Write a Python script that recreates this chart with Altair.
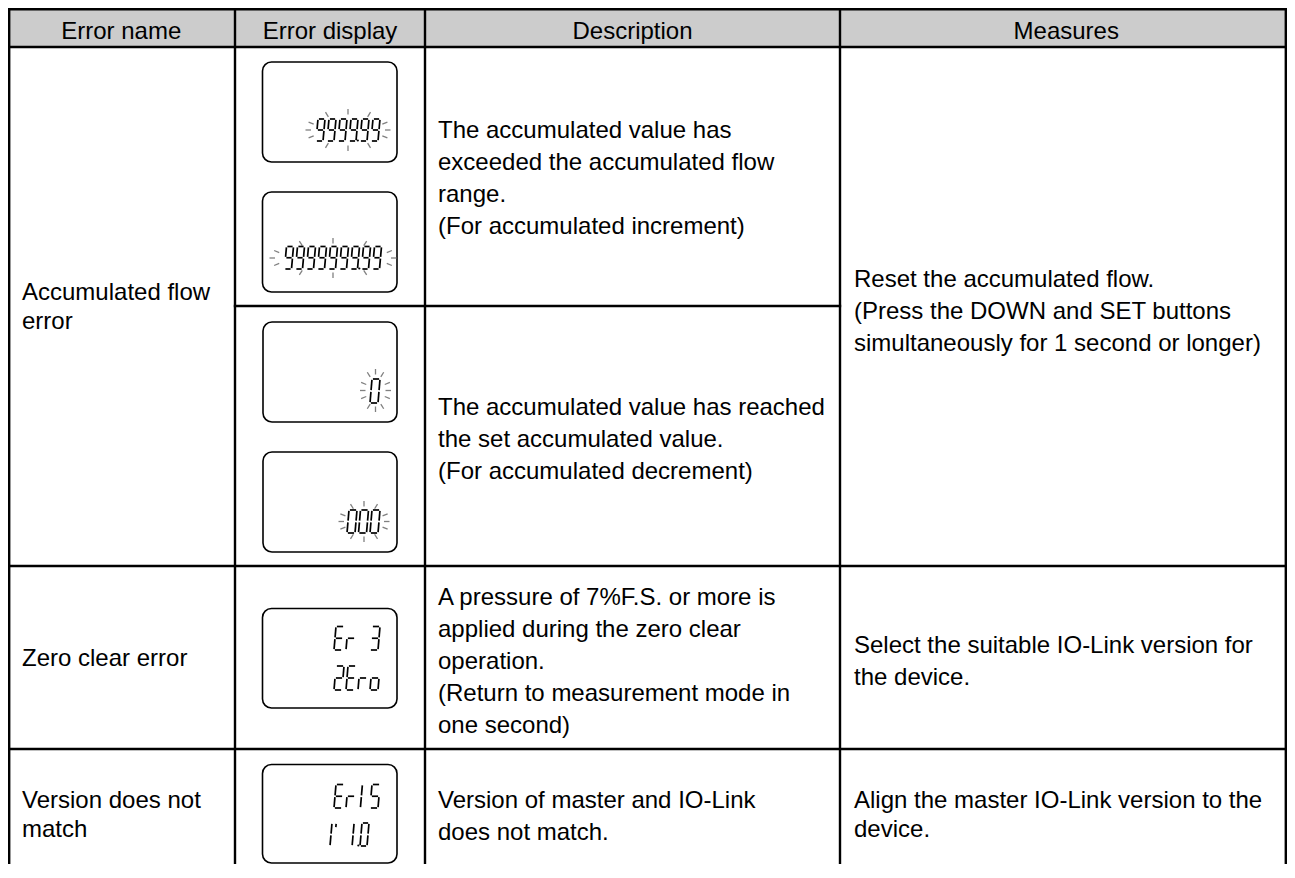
import math
import altair as alt
import pandas as pd

# ---------------- data (table content) ----------------
headers = ["Error name", "Error display", "Description", "Measures"]

error_names = [
    ["Accumulated flow", "error"],
    ["Zero clear error"],
    ["Version does not", "match"],
]

descriptions = [
    ["The accumulated value has", "exceeded the accumulated flow", "range.",
     "(For accumulated increment)"],
    ["The accumulated value has reached", "the set accumulated value.",
     "(For accumulated decrement)"],
    ["A pressure of 7%F.S. or more is", "applied during the zero clear",
     "operation.", "(Return to measurement mode in", "one second)"],
    ["Version of master and IO-Link", "does not match."],
]

measures = [
    ["Reset the accumulated flow.", "(Press the DOWN and SET buttons",
     "simultaneously for 1 second or longer)"],
    ["Select the suitable IO-Link version for", "the device."],
    ["Align the master IO-Link version to the", "device."],
]

display_texts = [["9999.99"], ["9999999.99"], ["0"], ["000"],
                 ["Er 3", "2Ero"], ["Er15", "V 1.0"]]
display_blinking = [True, True, True, True, False, False]

# ---------------- layout (reference pixel coordinates) ----------------
W, H = 1279, 856
X0, Y0 = 8.0, 8.0
BOTTOM = Y0 + H

col_centers_edges = [7.5, 235, 425, 840, 1292.5]
left_edge = max(7.5, X0 + 1.2)
right_edge = min(1292.5, X0 + W - 1.2)
col_edges = [left_edge, 235, 425, 840, right_edge]
top_y, head_y = max(7, Y0 + 1.2), 47
row_lines = [(566, col_edges[0], col_edges[-1]), (749, col_edges[0], col_edges[-1]),
             (306, col_edges[1], col_edges[3])]
header_baseline = 39

name_x, desc_x, meas_x = 22, 438, 854
name_first = [300, 666, 808]
name_step = 28.5
desc_first = [138, 415, 605, 808]
desc_step = 32
meas_first = [287, 653, 808]
meas_step = [32, 32, 28.5]

boxes = [(262.5, 62, 397, 162), (262.5, 192, 397, 292), (263, 322, 397, 422),
         (263, 452, 397, 552), (262.5, 608.5, 397, 708), (262.5, 764.5, 397, 863)]
# per display line: right edge, baseline, height, pitch, glyph width, slant
line_layout = [
    [(380, 141, 22, 11, 7, 2)],
    [(381.5, 269, 22.5, 11, 7, 2)],
    [(380, 403, 24, 11, 8, 2)],
    [(380, 533, 23, 11.5, 8, 2)],
    [(380, 650, 23.5, 12, 8, 2), (380, 690, 24, 12, 8, 2)],
    [(380, 808, 23.5, 12, 8, 2), (369, 846, 23, 10, 7, 2)],
]
ray_layout = [(348, 130, 37, 15.5), (333, 258, 58, 14.5), (375.5, 390.5, 10, 16),
              (364, 521.5, 20, 15), None, None]
ray_angles = [0, 22, -22, 180, 158, 202, 90, 58, 122, 270, 238, 302]
ray_len = 5.5

SEGS = {
    'a': ((0, 1), (1, 1)), 'b': ((1, 1), (1, 0.5)), 'c': ((1, 0.5), (1, 0)),
    'd': ((0, 0), (1, 0)), 'e': ((0, 0.5), (0, 0)), 'f': ((0, 1), (0, 0.5)),
    'g': ((0, 0.5), (1, 0.5)), 'i': ((0.3, 1), (0.3, 0.5)), 'j': ((0.3, 0.5), (0.3, 0)),
    't': ((0.6, 1), (0.6, 0.78)),
}
GLYPHS = {'0': 'abcdef', '1': 'ij', '2': 'abged', '3': 'abgcd', '5': 'afgcd',
          '9': 'abcdfg', 'E': 'afged', 'r': 'eg', 'o': 'cdeg', 'V': 'eft', ' ': ''}

# ---------------- build tables ----------------
grid = []
for cx in col_edges:
    grid.append(dict(x=cx, x2=cx, y=top_y, y2=BOTTOM))
for yy in (top_y, head_y):
    grid.append(dict(x=col_edges[0], x2=col_edges[-1], y=yy, y2=yy))
for yy, a, b in row_lines:
    grid.append(dict(x=a, x2=b, y=yy, y2=yy))
grid = pd.DataFrame(grid)

header_bg = pd.DataFrame([dict(x=col_edges[0], x2=col_edges[-1], y=top_y, y2=head_y)])

head_df = pd.DataFrame([dict(x=(col_centers_edges[i] + col_centers_edges[i + 1]) / 2,
                             y=header_baseline, label=h) for i, h in enumerate(headers)])

body = []
for r, lines in enumerate(error_names):
    for k, t in enumerate(lines):
        body.append(dict(x=name_x, y=name_first[r] + k * name_step, label=t))
for r, lines in enumerate(descriptions):
    for k, t in enumerate(lines):
        body.append(dict(x=desc_x, y=desc_first[r] + k * desc_step, label=t))
for r, lines in enumerate(measures):
    for k, t in enumerate(lines):
        body.append(dict(x=meas_x, y=meas_first[r] + k * meas_step[r], label=t))
body_df = pd.DataFrame(body)

box_df = pd.DataFrame([dict(x=a, y=b, x2=c, y2=d) for a, b, c, d in boxes])

segs, dots, rays = [], [], []
for di, lines in enumerate(display_texts):
    for li, text in enumerate(lines):
        right, base, gh, pitch, gw, sl = line_layout[di][li]
        chars = []
        for ch in text:
            if ch == '.' and chars:
                chars[-1][1] = True
            else:
                chars.append([ch, False])
        n = len(chars)
        last_left = right - gw - sl
        for i, (ch, dot) in enumerate(chars):
            left = last_left - (n - 1 - i) * pitch
            for s in GLYPHS[ch]:
                (u1, v1), (u2, v2) = SEGS[s]
                xa, ya = left + u1 * gw + v1 * sl, base - v1 * gh
                xb, yb = left + u2 * gw + v2 * sl, base - v2 * gh
                L = math.hypot(xb - xa, yb - ya)
                g = 0.9 if L > 4 else 0
                dx, dy = (xb - xa) / L * g, (yb - ya) / L * g
                segs.append(dict(x=xa + dx, y=ya + dy, x2=xb - dx, y2=yb - dy))
            if dot:
                dots.append(dict(x=left + gw + (pitch - gw) * 0.45, y=base - 0.5))
    if display_blinking[di] and ray_layout[di]:
        cx, cy, rx, ry = ray_layout[di]
        for a in ray_angles:
            t = math.radians(a)
            px, py = cx + rx * math.cos(t), cy - ry * math.sin(t)
            rays.append(dict(x=px, y=py, x2=px + ray_len * math.cos(t),
                             y2=py - ray_len * math.sin(t)))
seg_df, dot_df, ray_df = pd.DataFrame(segs), pd.DataFrame(dots), pd.DataFrame(rays)

# ---------------- chart ----------------
xs = alt.Scale(domain=[X0, X0 + W], range=[0, W], nice=False, zero=False)
ys = alt.Scale(domain=[Y0, Y0 + H], range=[0, H], nice=False, zero=False)


def enc2(ch):
    return ch.encode(x=alt.X('x:Q', scale=xs, axis=None), x2='x2:Q',
                     y=alt.Y('y:Q', scale=ys, axis=None), y2='y2:Q')


FONT = "Liberation Sans"

layers = [
    enc2(alt.Chart(header_bg).mark_rect(color='#cccccc')),
    enc2(alt.Chart(box_df).mark_rect(cornerRadius=9, fill='white', stroke='black',
                                     strokeWidth=1.6)),
    enc2(alt.Chart(ray_df).mark_rule(color='#808080', strokeWidth=1.3)),
    enc2(alt.Chart(seg_df).mark_rule(color='black', strokeWidth=1.7, strokeCap='butt')),
    alt.Chart(dot_df).mark_circle(color='black', size=5, opacity=1).encode(
        x=alt.X('x:Q', scale=xs, axis=None), y=alt.Y('y:Q', scale=ys, axis=None)),
    enc2(alt.Chart(grid).mark_rule(color='black', strokeWidth=2.4, strokeCap='square')),
    alt.Chart(head_df).mark_text(font=FONT, fontSize=24, align='center',
                                 baseline='alphabetic', color='black').encode(
        x=alt.X('x:Q', scale=xs, axis=None), y=alt.Y('y:Q', scale=ys, axis=None),
        text='label:N'),
    alt.Chart(body_df).mark_text(font=FONT, fontSize=24, align='left',
                                 baseline='alphabetic', color='black').encode(
        x=alt.X('x:Q', scale=xs, axis=None), y=alt.Y('y:Q', scale=ys, axis=None),
        text='label:N'),
]

chart = alt.layer(*layers).properties(
    width=W, height=H, padding=0,
    autosize=alt.AutoSizeParams(type='none'),
).configure_view(stroke=None)

chart.save("out.html", embed_options={"renderer": "svg", "actions": False})
